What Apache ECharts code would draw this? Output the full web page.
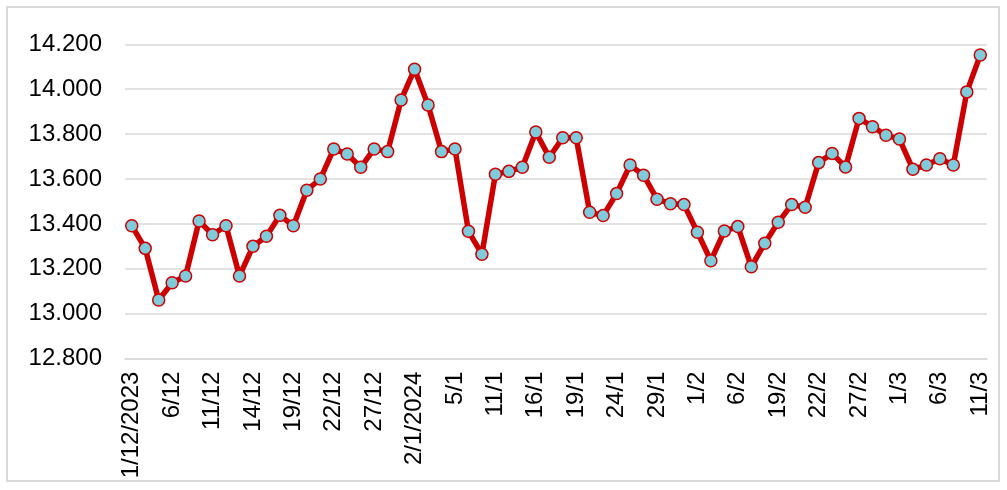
<!DOCTYPE html>
<html>
<head>
<meta charset="utf-8">
<script src="https://cdn.jsdelivr.net/npm/echarts@6/dist/echarts.min.js"></script>
<style>
html,body{margin:0;padding:0;background:#fff;}
#chart{width:1007px;height:490px;}
</style>
</head>
<body>
<div id="chart"></div>
<script>
var categories = [
  '1/12/2023','4/12','5/12','6/12','7/12','8/12','11/12','12/12','13/12','14/12',
  '15/12','18/12','19/12','20/12','21/12','22/12','25/12','26/12','27/12','28/12',
  '29/12','2/1/2024','3/1','4/1','5/1','8/1','10/1','11/1','12/1','15/1',
  '16/1','17/1','18/1','19/1','22/1','23/1','24/1','25/1','26/1','29/1',
  '30/1','31/1','1/2','2/2','5/2','6/2','7/2','16/2','19/2','20/2',
  '21/2','22/2','23/2','26/2','27/2','28/2','29/2','1/3','4/3','5/3',
  '6/3','7/3','8/3','11/3'
];
var values = [
  13392,13291,13061,13138,13168,13413,13352,13392,13168,13300,
  13345,13438,13392,13550,13600,13734,13711,13652,13734,13722,
  13952,14089,13930,13722,13734,13367,13265,13621,13634,13652,
  13809,13697,13784,13784,13452,13437,13535,13662,13617,13510,
  13490,13486,13363,13236,13368,13388,13209,13314,13407,13486,
  13474,13673,13714,13653,13870,13833,13795,13778,13643,13662,
  13690,13662,13988,14152
];
var yMin = 12800, yMax = 14200, yStep = 200;

function fmt(v){
  var s = String(Math.round(v));
  return s.replace(/\B(?=(\d{3})+(?!\d))/g, '.');
}

var chart = echarts.init(document.getElementById('chart'));
chart.setOption({
  animation: false,
  graphic: [{
    type: 'rect',
    shape: {x: 7, y: 7, width: 992, height: 474},
    style: {fill: 'none', stroke: '#d9d9d9', lineWidth: 2},
    silent: true
  }],
  grid: {left: 125, right: 20, top: 44.3, bottom: 131.4, containLabel: false},
  xAxis: {
    type: 'category',
    data: categories,
    boundaryGap: true,
    axisLine: {show: true, lineStyle: {color: '#d9d9d9', width: 1.5}},
    axisTick: {show: false},
    axisLabel: {
      interval: 2,
      rotate: 90,
      margin: 13,
      color: '#000',
      fontFamily: 'Liberation Sans, Arial, sans-serif',
      fontSize: 24
    },
    splitLine: {show: false}
  },
  yAxis: {
    type: 'value',
    min: yMin, max: yMax, interval: yStep,
    axisLine: {show: false},
    axisTick: {show: false},
    axisLabel: {
      formatter: fmt,
      margin: 23,
      color: '#000',
      fontFamily: 'Liberation Sans, Arial, sans-serif',
      fontSize: 24
    },
    splitLine: {show: true, lineStyle: {color: '#d9d9d9', width: 1.5}}
  },
  series: [{
    type: 'line',
    data: values,
    showAllSymbol: true,
    lineStyle: {color: '#cc0000', width: 5.5},
    symbol: 'circle',
    symbolSize: 12,
    itemStyle: {color: '#7ecbdc', borderColor: '#cc0000', borderWidth: 1.5},
    z: 3
  }]
});
</script>
</body>
</html>
